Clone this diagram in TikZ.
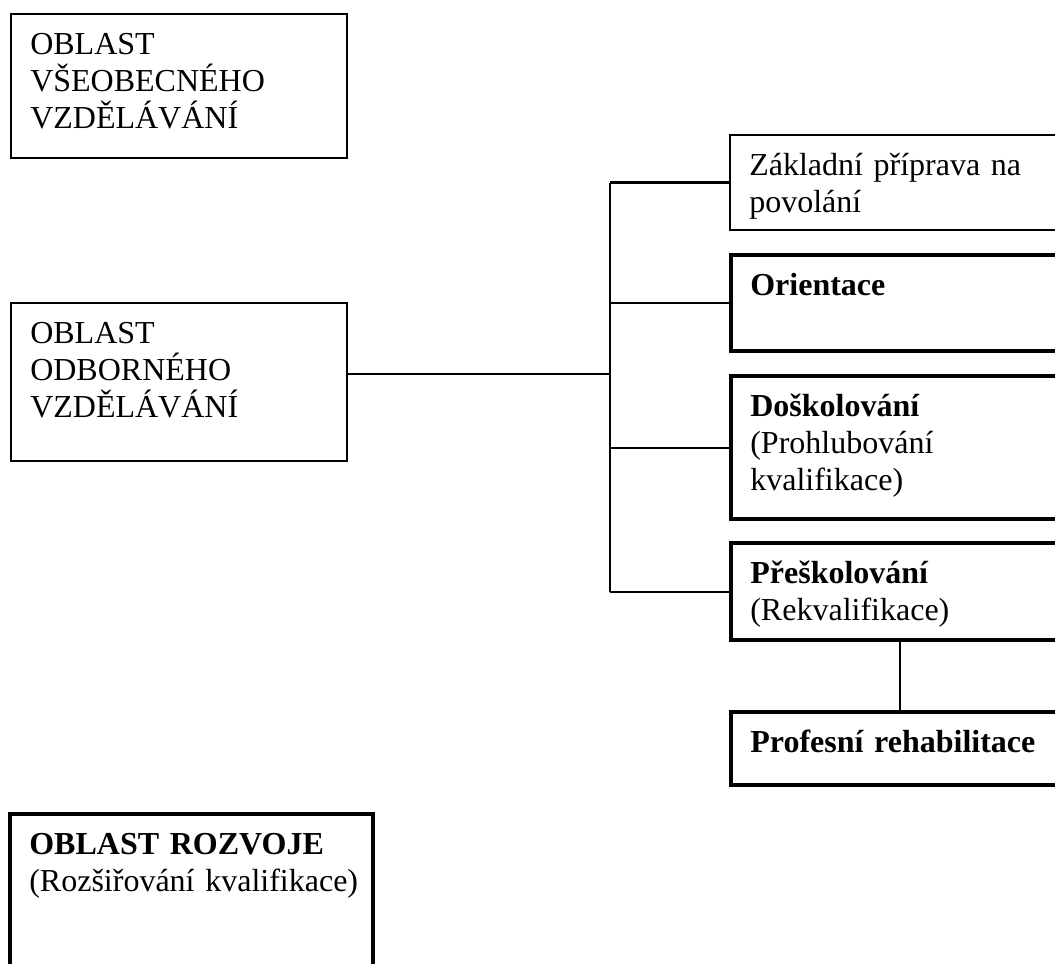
\documentclass[tikz,border=0pt]{standalone}
\usepackage{fontspec}
\setmainfont{Liberation Serif}
\usetikzlibrary{positioning,calc}

\begin{document}
\begin{tikzpicture}[x=0.375pt, y=-0.375pt,
    box/.style={draw, line width=0.8pt, anchor=north west, align=left,
      inner xsep=7.2pt, inner ysep=5.5pt, text height=9.7pt,
      font=\fontsize{12}{13.8}\selectfont},
    thickbox/.style={box, line width=1.6pt},
    link/.style={line width=0.8pt}]
  \useasboundingbox (0,0) rectangle (1055,963);
  \clip (0,0) rectangle (1055,963);
  % left column
  \node[box, text width=111.6pt, text depth=33.3pt] (vseob) at (10,13)
    {OBLAST\\VŠEOBECNÉHO\\VZDĚLÁVÁNÍ};
  \node[box, text width=111.6pt, text depth=38.5pt] (odbor) at (10,302)
    {OBLAST\\ODBORNÉHO\\VZDĚLÁVÁNÍ};
  \node[thickbox, text width=121.7pt, text depth=54.3pt] (rozvoj) at (8,812)
    {\textbf{OBLAST ROZVOJE}\\\mbox{(Rozšiřování kvalifikace)}};
  % right column
  \node[box, text width=112.35pt, text depth=14.9pt] (zaklad) at (729,134)
    {Základní příprava na\\povolání};
  \node[thickbox, text width=112.35pt, text depth=15.3pt] (orient) at (729,253)
    {\textbf{Orientace}};
  \node[thickbox, text width=112.35pt, text depth=32.9pt] (doskol) at (729,374)
    {\textbf{Doškolování}\\(Prohlubování\\kvalifikace)};
  \node[thickbox, text width=112.35pt, text depth=15.7pt] (preskol) at (729,541)
    {\textbf{Přeškolování}\\(Rekvalifikace)};
  \node[thickbox, text width=112.35pt, text depth=6.7pt] (rehab) at (729,710)
    {\textbf{Profesní rehabilitace}};
  % connectors
  \coordinate (split) at (610,374);
  \draw[link] (split -| odbor.east) -- (split);
  \draw[link] (zaklad.west -| split) -- (preskol.west -| split);
  \foreach \n in {zaklad,orient,doskol,preskol}
    \draw[link] (\n.west -| split) -- (\n.west);
  \draw[link] (preskol.south) -- (rehab.north);
\end{tikzpicture}
\end{document}
